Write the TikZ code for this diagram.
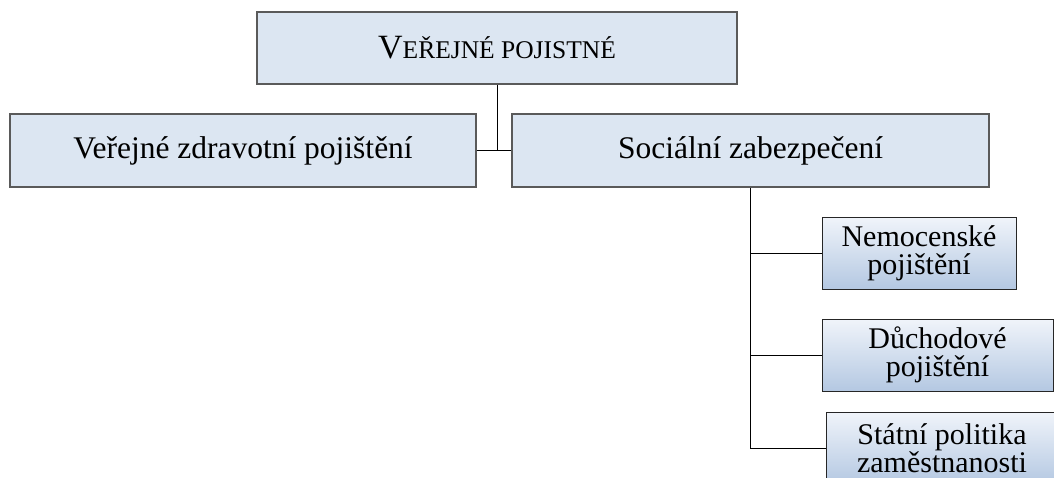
\documentclass[tikz,border=0pt]{standalone}
\usepackage{fontspec}
\setmainfont{Liberation Serif}
\definecolor{boxfill}{HTML}{DCE6F2}
\definecolor{boxline}{HTML}{5A5A5A}
\definecolor{shtop}{HTML}{F0F4FA}
\definecolor{shbot}{HTML}{B4C8E2}
\begin{document}
\begin{tikzpicture}[x=1pt,y=-1pt,
  bigbox/.style={draw=boxline,line width=1.3pt,fill=boxfill,inner sep=0pt,
    font=\fontsize{31.5}{36}\selectfont},
  smallbox/.style={draw=black!85,line width=1pt,top color=shtop,bottom color=shbot,
    inner sep=0pt,align=center,font=\fontsize{30}{28}\selectfont},
  conn/.style={draw=black,line width=1pt}]
\useasboundingbox (0,0) rectangle (1054,477);
\clip (0,0) rectangle (1054,477);
\node[bigbox,minimum width=480pt,minimum height=72pt] (top) at (497,48)
  {{\fontsize{34}{36}\selectfont V}{\fontsize{25.5}{36}\selectfont EŘEJNÉ POJISTNÉ}};
\node[bigbox,minimum width=466pt,minimum height=73pt] (left) at (243,150.5)
  {Veřejné zdravotní pojištění};
\node[bigbox,minimum width=477pt,minimum height=73pt] (right) at (750.5,150.5)
  {Sociální zabezpečení};
\node[smallbox,minimum width=194pt,minimum height=72pt] (nem) at (919,253)
  {Nemocenské\\pojištění};
\node[smallbox,minimum width=231pt,minimum height=72pt] (duch) at (937.5,355)
  {Důchodové\\pojištění};
\node[smallbox,minimum width=232pt,minimum height=72pt] (stat) at (942,448)
  {Státní politika\\zaměstnanosti};
\draw[conn] (top.south) -- (top.south |- left.east);
\draw[conn] (left.east) -- (right.west);
\draw[conn] (right.south) |- (stat.west);
\draw[conn] (right.south |- nem.west) -- (nem.west);
\draw[conn] (right.south |- duch.west) -- (duch.west);
\end{tikzpicture}
\end{document}
